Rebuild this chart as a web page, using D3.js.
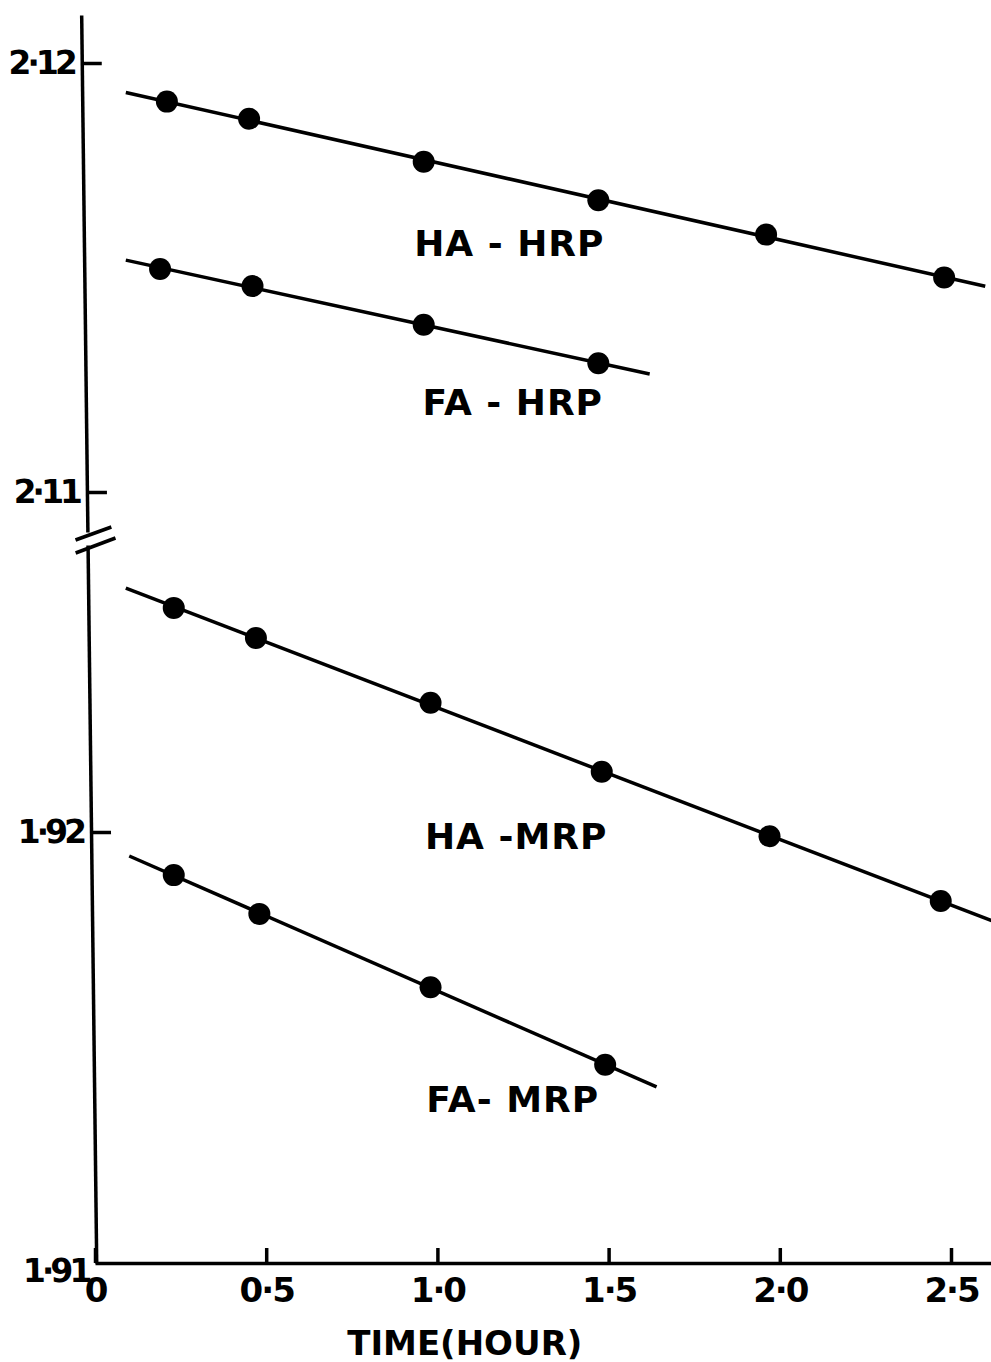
<!DOCTYPE html>
<meta charset="utf-8">
<script src="https://d3js.org/d3.v7.min.js"></script>
<style>
  body { margin: 0; background: #fff; }
  text { font-family: "DejaVu Sans", "Liberation Sans", sans-serif; font-weight: bold; fill: #000; }
</style>
<div id="my_dataviz"></div>
<script>

// time in hours
var haHrpT = [0.21, 0.45, 0.96, 1.47, 1.96, 2.48];
var haHrpV = [2.1191, 2.1187, 2.1177, 2.1168, 2.1160, 2.1150];

var faHrpT = [0.19, 0.46, 0.96, 1.47];
var faHrpV = [2.1152, 2.1148, 2.1139, 2.1130];

var haMrpT = [0.23, 0.47, 0.98, 1.48, 1.97, 2.47];
var haMrpV = [1.9252, 1.9245, 1.9230, 1.9214, 1.9199, 1.9184];

var faMrpT = [0.23, 0.48, 0.98, 1.49];
var faMrpV = [1.9190, 1.9181, 1.9164, 1.9146];

// extent of each drawn straight line (hours)
var fitRanges = [[0.09, 2.60], [0.09, 1.62], [0.09, 2.62], [0.10, 1.64]];
var seriesNames = ["HA - HRP", "FA - HRP", "HA -MRP", "FA- MRP"];
var labelT = [1.21, 1.22, 1.23, 1.22];
var labelV = [2.1158, 2.1121, 1.9199, 1.9138];

var xTicks = [0, 0.5, 1.0, 1.5, 2.0, 2.5];
var xTickLabels = ["0", "0·5", "1·0", "1·5", "2·0", "2·5"];
var yTicksUpper = [2.11, 2.12];
var yTicksLower = [1.91, 1.92];
var yTickLabels = {"2.11": "2·11", "2.12": "2·12", "1.91": "1·91", "1.92": "1·92"};

var width = 991, height = 1362;

var svg = d3.select("#my_dataviz")
  .append("svg")
    .attr("width", width)
    .attr("height", height);

// x scale
var x = d3.scaleLinear().domain([0, 2.5]).range([95, 951]);
// broken y axis: two segments
var yU = d3.scaleLinear().domain([2.11, 2.12]).range([492, 63]);
var yL = d3.scaleLinear().domain([1.91, 1.92]).range([1263, 832]);

var series = [
  {t: haHrpT, v: haHrpV, y: yU},
  {t: faHrpT, v: faHrpV, y: yU},
  {t: haMrpT, v: haMrpV, y: yL},
  {t: faMrpT, v: faMrpV, y: yL}
];

// X axis
var xAxisScale = x.copy().domain([0, x.invert(991)]).range([x(0), 991]);
var xAxis = svg.append("g")
  .attr("transform", "translate(0," + yL(1.91) + ")")
  .call(d3.axisBottom(xAxisScale)
    .tickValues(xTicks)
    .tickSize(-15)
    .tickSizeOuter(0)
    .tickPadding(15)
    .tickFormat(function(d, i) { return xTickLabels[i]; }));
xAxis.selectAll("path, line").attr("stroke", "#000").attr("stroke-width", 3.5);
xAxis.selectAll("text").attr("font-size", 34).attr("letter-spacing", -2).attr("dy", "0.72em");

// Y axis (hand drawn, slightly tilted)
var yAxisG = svg.append("g")
  .attr("transform", "translate(81,0) skewX(0.69)");

function drawY(scale, lo, hi, ticks) {
  var s = scale.copy().domain([lo, hi]).range([scale(lo), scale(hi)]);
  var g = yAxisG.append("g")
    .call(d3.axisLeft(s)
      .tickValues(ticks)
      .tickSize(-20)
      .tickSizeOuter(0)
      .tickPadding(8)
      .tickFormat(function(d) { return yTickLabels[d.toFixed(2)]; }));
  g.selectAll("path, line").attr("stroke", "#000").attr("stroke-width", 3.5);
  g.selectAll("text").attr("font-size", 33).attr("letter-spacing", -4);
  return g;
}
drawY(yU, yU.invert(532), yU.invert(15), yTicksUpper);
var lowerG = drawY(yL, 1.91, yL.invert(545), yTicksLower);
lowerG.selectAll(".tick").filter(function(d) { return d === 1.91; }).select("line").remove();
lowerG.selectAll(".tick").filter(function(d) { return d === 1.91; }).select("text").attr("dy", "0.55em");

// break marks
var breaks = [[-12, 540, 24, 527], [-12, 553, 28, 538]];
yAxisG.selectAll(".brk")
  .data(breaks)
  .enter()
  .append("line")
    .attr("x1", function(d) { return d[0]; })
    .attr("y1", function(d) { return d[1]; })
    .attr("x2", function(d) { return d[2]; })
    .attr("y2", function(d) { return d[3]; })
    .attr("stroke", "#000")
    .attr("stroke-width", 3.5);

// least squares straight line for each series
function fit(t, v) {
  var mt = d3.mean(t), mv = d3.mean(v);
  var num = d3.sum(t, function(d, i) { return (d - mt) * (v[i] - mv); });
  var den = d3.sum(t, function(d) { return (d - mt) * (d - mt); });
  var b = num / den;
  return function(tt) { return mv + b * (tt - mt); };
}

series.forEach(function(s, k) {
  var f = fit(s.t, s.v);
  var r = fitRanges[k];
  var line = d3.line()
    .x(function(d) { return x(d); })
    .y(function(d) { return s.y(f(d)); });
  svg.append("path")
    .datum(r)
    .attr("d", line)
    .attr("fill", "none")
    .attr("stroke", "#000")
    .attr("stroke-width", 3.5);

  svg.selectAll(".dot" + k)
    .data(s.t)
    .enter()
    .append("circle")
      .attr("cx", function(d) { return x(d); })
      .attr("cy", function(d, i) { return s.y(s.v[i]); })
      .attr("r", 11)
      .attr("fill", "#000");

  svg.append("text")
    .attr("x", x(labelT[k]))
    .attr("y", s.y(labelV[k]))
    .attr("text-anchor", "middle")
    .attr("dy", "0.36em")
    .attr("font-size", 36)
    .attr("letter-spacing", 1)
    .text(seriesNames[k]);
});

// axis title
svg.append("text")
  .attr("x", x(1.08))
  .attr("y", 1343)
  .attr("text-anchor", "middle")
  .attr("dy", "0.36em")
  .attr("font-size", 34)
  .text("TIME(HOUR)");

</script>
